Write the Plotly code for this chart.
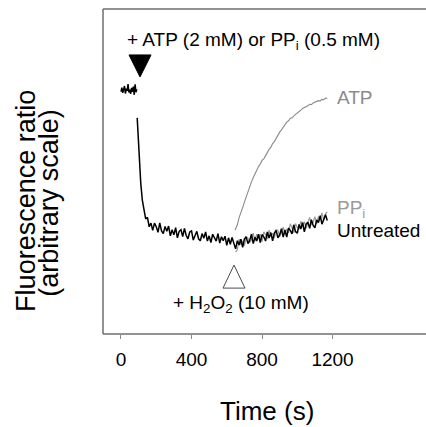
import plotly.graph_objects as go

# ---------------- data (arbitrary units) ----------------
pre_t = [0, 5, 10, 15, 20, 25, 30, 35, 40, 45, 50, 55, 60, 65, 70, 75, 80, 85, 90]
pre_v = [74.6, 75.8, 74.2, 75.1, 76.3, 74.0, 75.5, 74.8, 76.9, 74.3, 75.2, 73.9,
         75.7, 74.5, 76.1, 73.6, 76.8, 74.4, 75.3]

untreated_t = [92, 98, 104, 112, 121, 132, 140,
               150, 160, 170, 180, 190, 200, 210, 220, 230, 240, 250, 260, 270, 280, 290,
               300, 310, 320, 330, 340, 350, 360, 370, 380, 390, 400, 410, 420, 430, 440,
               450, 460, 470, 480, 490, 500, 510, 520, 530, 540, 550, 560, 570, 580, 590,
               600, 610, 620, 630, 640,
               650, 660, 670, 680, 690, 700, 710, 720, 730, 740, 750, 760, 770, 780, 790,
               800, 810, 820, 830, 840, 850, 860, 870, 880, 890, 900, 910, 920, 930, 940,
               950, 960, 970, 980, 990, 1000, 1010, 1020, 1030, 1040, 1050, 1060, 1070,
               1080, 1090, 1100, 1110, 1120, 1130, 1140, 1150, 1160, 1170]
untreated_v = [66.5, 60.6, 53.5, 46.5, 41.2, 37.2, 35.4,
               35.9, 33.0, 34.1, 31.9, 34.1, 33.0, 31.3, 34.2, 31.7, 30.9, 33.1, 31.6,
               33.2, 30.2, 32.1, 30.5, 32.7, 29.6, 31.6, 32.1, 30.0, 32.5, 30.3, 29.3,
               31.4, 31.7, 28.9, 30.4, 31.6, 29.3, 28.7, 30.9, 29.5, 31.4, 28.6, 30.2,
               28.1, 30.7, 29.8, 28.6, 30.9, 28.0, 29.9, 28.7, 30.1, 27.3, 29.6, 27.6,
               29.7, 27.6,
               26.2, 28.7, 27.4, 29.2, 26.7, 29.2, 29.9, 27.8, 28.8, 30.7, 27.8, 29.8,
               28.6, 30.7, 28.1, 30.6, 29.9, 28.6, 31.4, 29.5, 31.2, 28.7, 31.1, 31.9,
               29.6, 30.5, 32.4, 29.8, 32.0, 29.8, 32.6, 31.9, 30.8, 33.6, 31.5, 31.0,
               33.7, 32.3, 34.3, 31.4, 33.8, 34.4, 32.5, 35.2, 33.4, 32.7, 35.1, 34.3,
               36.4, 33.8, 35.6, 36.7, 34.9]

ppi_t = [650, 660, 670, 680, 690, 700, 710, 720, 730, 740, 750, 760, 770, 780, 790,
         800, 810, 820, 830, 840, 850, 860, 870, 880, 890, 900, 910, 920, 930, 940,
         950, 960, 970, 980, 990, 1000, 1010, 1020, 1030, 1040, 1050, 1060, 1070,
         1080, 1090, 1100, 1110, 1120, 1130, 1140, 1150, 1160, 1170]
ppi_v = [25.2, 26.0, 29.2, 27.4, 28.7, 27.1, 29.9, 29.5, 28.1, 28.9, 31.0, 28.5, 30.7,
         29.4, 30.7, 28.4, 31.4, 30.6, 29.2, 32.0, 30.0, 31.0, 29.5, 32.1, 31.9, 30.0,
         31.3, 32.9, 30.6, 32.3, 31.1, 33.9, 32.7, 31.1, 34.0, 32.7, 32.2, 34.7, 33.0,
         34.6, 32.5, 34.6, 35.9, 33.6, 34.4, 36.1, 33.8, 36.2, 35.1, 37.3, 35.0, 36.9,
         37.6]

atp_t = [647, 660, 670, 680, 690, 700, 710, 720, 730, 740, 750, 760, 770, 780, 790,
         800, 810, 820, 830, 840, 850, 860, 870, 880, 890, 900, 910, 920, 930, 940,
         950, 960, 970, 980, 990, 1000, 1010, 1020, 1030, 1040, 1050, 1060, 1070,
         1080, 1090, 1100, 1110, 1120, 1130, 1140, 1150, 1160, 1170]
atp_v = [32.0, 33.6, 35.8, 37.1, 38.9, 40.6, 42.3, 43.5, 45.2, 46.8, 48.1, 49.3, 50.4,
         51.5, 52.3, 53.4, 53.9, 54.9, 55.7, 56.8, 57.4, 58.6, 59.2, 60.3, 61.0, 62.1,
         62.8, 63.7, 64.3, 65.2, 65.6, 66.3, 66.5, 67.2, 67.6, 68.0, 68.6, 68.9, 69.4,
         69.6, 70.0, 70.2, 70.7, 70.6, 71.1, 71.3, 71.5, 71.8, 71.7, 72.2, 72.1, 72.6, 72.5]

x_ticks = [0, 400, 800, 1200]
x_tick_labels = ["0", "400", "800", "1200"]

# ---------------- styling / layout constants ----------------
FONT = "Liberation Sans, Arial, sans-serif"
BLACK = "#000000"
GRAY_ATP = "#8a8a8a"
GRAY_PPI = "#9a9a9a"
FRAME = "#6e6e6e"

X_RANGE = [-102, 1730]
Y_RANGE = [0, 100]

fig = go.Figure()

fig.add_trace(go.Scatter(x=ppi_t, y=ppi_v, mode="lines",
                         line=dict(color=GRAY_PPI, width=1.2), showlegend=False,
                         hoverinfo="skip"))
fig.add_trace(go.Scatter(x=pre_t + [None] + untreated_t,
                         y=pre_v + [None] + untreated_v, mode="lines",
                         line=dict(color=BLACK, width=1.5), showlegend=False,
                         connectgaps=False, hoverinfo="skip"))
fig.add_trace(go.Scatter(x=atp_t, y=atp_v, mode="lines",
                         line=dict(color=GRAY_ATP, width=1.1), showlegend=False,
                         hoverinfo="skip"))

# Frame: left, top and bottom edges only (the box runs off the right edge)
for x0, y0, x1, y1 in [(0, 0, 0, 1), (0, 1, 1.1, 1), (0, 0, 1.1, 0)]:
    fig.add_shape(type="line", xref="paper", yref="paper", x0=x0, y0=y0, x1=x1, y1=y1,
                  line=dict(color=FRAME, width=1.5), layer="above")

# Event markers (filled = ATP/PPi addition, open = H2O2 addition)
ADD_T, ADD_V = 108, 79.1
H2O2_T, H2O2_V = 641, 21.2
fig.add_shape(type="path", xref="x", yref="y", xsizemode="pixel", ysizemode="pixel",
              xanchor=ADD_T, yanchor=ADD_V,
              path="M -11,22 L 11,22 L 0,0 Z",
              fillcolor=BLACK, line=dict(color=BLACK, width=1))
fig.add_shape(type="path", xref="x", yref="y", xsizemode="pixel", ysizemode="pixel",
              xanchor=H2O2_T, yanchor=H2O2_V,
              path="M 0,0 L -11,-23 L 11,-23 Z",
              fillcolor="white", line=dict(color="#4a4a4a", width=1))

def ann(text, x, y, size=19, color=BLACK, xanchor="center", **kw):
    fig.add_annotation(text=text, x=x, y=y, xref=kw.pop("xref", "x"),
                       yref=kw.pop("yref", "y"), showarrow=False,
                       xanchor=xanchor, yanchor="middle",
                       font=dict(family=FONT, size=size, color=color), **kw)

ann("+ ATP (2 mM) or PP<sub>i</sub> (0.5 mM)", 749, 90.2)
ann("ATP", 1214, 72.9, color=GRAY_ATP, xanchor="left")
ann("PP<sub>i</sub>", 1214, 38.6, color=GRAY_PPI, xanchor="left")
ann("Untreated", 1216, 31.7, xanchor="left")
ann("+ H<sub>2</sub>O<sub>2</sub> (10 mM)", 681, 9.3)

# axis titles
ann("Time (s)", 0.508, -0.237, size=26, xref="paper", yref="paper")
ann("Fluorescence ratio", -0.238, 0.41, size=27, xref="paper", yref="paper",
    textangle=-90)
ann("(arbitrary scale)", -0.166, 0.405, size=27, xref="paper", yref="paper",
    textangle=-90)

fig.update_layout(
    template="none",
    width=426, height=427,
    margin=dict(l=103, r=0, t=9, b=93, pad=0, autoexpand=False),
    paper_bgcolor="white", plot_bgcolor="white",
    font=dict(family=FONT, color=BLACK),
    xaxis=dict(range=X_RANGE, tickvals=x_ticks, ticktext=x_tick_labels,
               ticks="outside", ticklen=4, tickwidth=1, tickcolor="#8a8a8a",
               ticklabelstandoff=4, automargin=False,
               showline=False, showgrid=False, zeroline=False,
               tickfont=dict(family=FONT, size=19, color=BLACK)),
    yaxis=dict(range=Y_RANGE, showticklabels=False, ticks="", automargin=False,
               showline=False, showgrid=False, zeroline=False),
)

fig.write_html("out.html",
               config={"displayModeBar": False, "responsive": False},
               post_script="document.documentElement.style.margin='0';"
                           "document.documentElement.style.padding='0';"
                           "document.documentElement.style.overflow='hidden';"
                           "document.body.style.margin='0';"
                           "document.body.style.padding='0';"
                           "document.body.style.overflow='hidden';")
